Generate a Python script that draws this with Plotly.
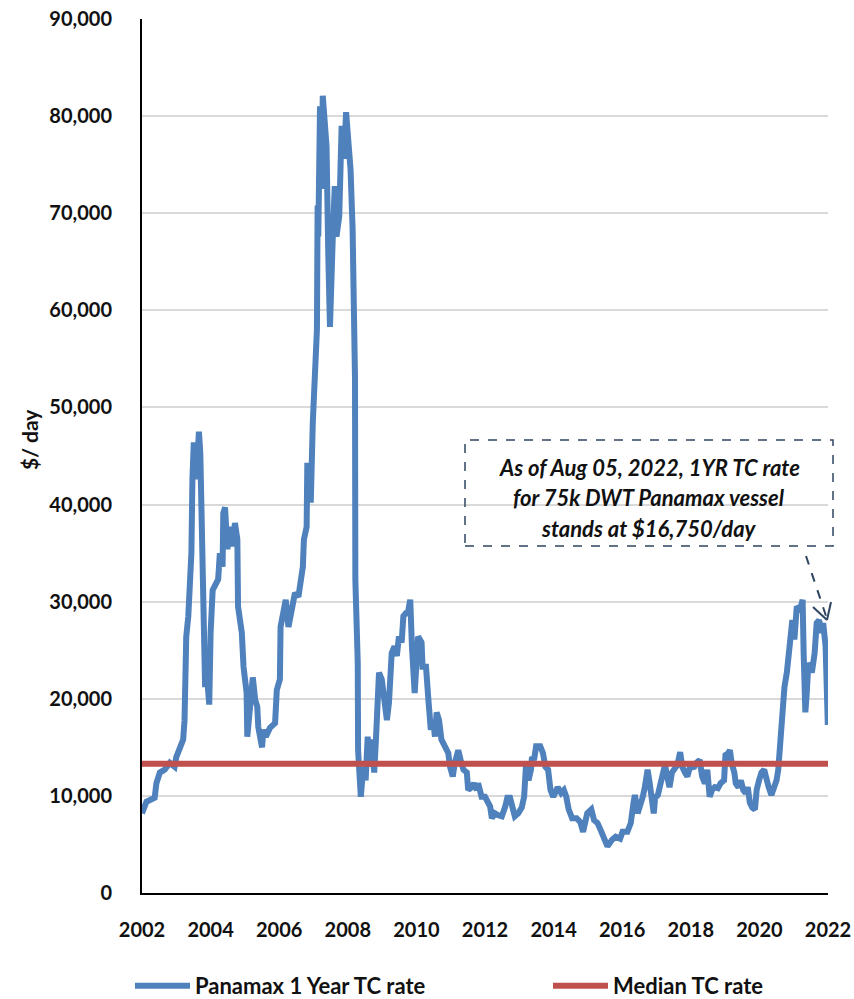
import plotly.graph_objects as go

# ---- data (fractional year, $/day) ----
years = [
    2002.00, 2002.13, 2002.37, 2002.42, 2002.52, 2002.66, 2002.81, 2002.95, 2003.00, 2003.10,
    2003.20, 2003.24, 2003.26, 2003.29, 2003.35, 2003.40, 2003.42, 2003.44, 2003.47, 2003.51,
    2003.58, 2003.66, 2003.70, 2003.73, 2003.75, 2003.77, 2003.84, 2003.88, 2003.96, 2004.00,
    2004.06, 2004.22, 2004.27, 2004.35, 2004.37, 2004.42, 2004.49, 2004.57, 2004.64, 2004.71,
    2004.78, 2004.80, 2004.86, 2004.91, 2004.96, 2005.05, 2005.07, 2005.15, 2005.23, 2005.30,
    2005.36, 2005.39, 2005.50, 2005.54, 2005.61, 2005.73, 2005.88, 2005.93, 2006.02, 2006.04,
    2006.14, 2006.19, 2006.27, 2006.37, 2006.46, 2006.56, 2006.63, 2006.69, 2006.72, 2006.80,
    2006.82, 2006.92, 2006.98, 2007.02, 2007.05, 2007.10, 2007.12, 2007.14, 2007.19, 2007.23,
    2007.27, 2007.30, 2007.38, 2007.43, 2007.48, 2007.56, 2007.62, 2007.67, 2007.75, 2007.82,
    2007.89, 2007.95, 2008.01, 2008.08, 2008.14, 2008.16, 2008.21, 2008.22, 2008.29, 2008.30,
    2008.38, 2008.45, 2008.52, 2008.58, 2008.64, 2008.69, 2008.77, 2008.82, 2008.84, 2008.91,
    2008.99, 2009.07, 2009.14, 2009.20, 2009.28, 2009.36, 2009.43, 2009.49, 2009.57, 2009.62,
    2009.69, 2009.75, 2009.82, 2009.87, 2009.95, 2010.05, 2010.15, 2010.18, 2010.28, 2010.35,
    2010.42, 2010.49, 2010.54, 2010.59, 2010.66, 2010.73, 2010.83, 2010.93, 2010.98, 2011.06,
    2011.12, 2011.22, 2011.29, 2011.37, 2011.47, 2011.51, 2011.61, 2011.68, 2011.76, 2011.80,
    2011.85, 2011.90, 2012.00, 2012.07, 2012.15, 2012.20, 2012.29, 2012.39, 2012.49, 2012.59,
    2012.65, 2012.73, 2012.81, 2012.87, 2012.97, 2013.07, 2013.14, 2013.17, 2013.20, 2013.27,
    2013.34, 2013.37, 2013.43, 2013.49, 2013.61, 2013.69, 2013.76, 2013.84, 2013.91, 2013.99,
    2014.06, 2014.12, 2014.22, 2014.30, 2014.37, 2014.44, 2014.54, 2014.67, 2014.78, 2014.86,
    2014.98, 2015.10, 2015.18, 2015.28, 2015.37, 2015.47, 2015.57, 2015.71, 2015.81, 2015.94,
    2016.01, 2016.15, 2016.25, 2016.33, 2016.37, 2016.45, 2016.53, 2016.60, 2016.66, 2016.74,
    2016.79, 2016.84, 2016.92, 2016.96, 2017.04, 2017.12, 2017.19, 2017.25, 2017.31, 2017.38,
    2017.45, 2017.53, 2017.61, 2017.69, 2017.75, 2017.83, 2017.90, 2017.97, 2018.10, 2018.16,
    2018.26, 2018.33, 2018.41, 2018.48, 2018.55, 2018.62, 2018.70, 2018.79, 2018.87, 2018.97,
    2019.01, 2019.09, 2019.14, 2019.19, 2019.27, 2019.31, 2019.39, 2019.46, 2019.53, 2019.60,
    2019.66, 2019.72, 2019.79, 2019.87, 2019.92, 2019.99, 2020.06, 2020.14, 2020.20, 2020.27,
    2020.35, 2020.43, 2020.50, 2020.55, 2020.60, 2020.65, 2020.73, 2020.80, 2020.85, 2020.92,
    2020.96, 2021.02, 2021.09, 2021.19, 2021.26, 2021.29, 2021.34, 2021.38, 2021.43, 2021.53,
    2021.61, 2021.67, 2021.74, 2021.82, 2021.86, 2021.93, 2021.97, 2021.99, 2021.995, 2022.00,
]
tc_rate = [
    8200, 9400, 9800, 11300, 12400, 12700, 13400, 13000, 14000, 15100,
    15800, 17800, 21000, 26400, 28500, 31200, 33000, 35000, 42600, 46400,
    42600, 47500, 45300, 39100, 39100, 29500, 21200, 23000, 19400, 26800,
    31200, 32300, 35000, 33600, 39100, 39700, 35400, 37700, 35700, 38100,
    36400, 29500, 28100, 26800, 23300, 20600, 16100, 18900, 22200, 19900,
    19200, 17100, 15000, 16800, 16100, 17000, 17500, 20900, 22000, 27400,
    29900, 30200, 27400, 29200, 30900, 30500, 32300, 33600, 36400, 37700,
    44300, 40200, 48500, 52900, 54200, 58000, 70800, 67600, 81000, 72500,
    82100, 80400, 76900, 65900, 58300, 67300, 72800, 67600, 69700, 79000,
    75600, 80400, 78300, 74500, 68400, 62600, 53000, 32300, 23700, 14700,
    9900, 13000, 11600, 16100, 13000, 15800, 12400, 15800, 18600, 22700,
    22000, 19600, 17800, 19600, 24700, 25400, 24400, 26400, 25800, 28500,
    28800, 28800, 30200, 25400, 20600, 26400, 25800, 23300, 23300, 19900,
    16800, 17800, 16100, 18600, 17800, 15800, 15100, 14400, 13000, 12000,
    13400, 14700, 13700, 12700, 12400, 10600, 10900, 11300, 10600, 11300,
    10600, 9900, 9900, 9400, 8900, 7700, 8200, 8000, 7900, 8900,
    9800, 9800, 8600, 7900, 8200, 8800, 9900, 12000, 13400, 11600,
    12700, 14000, 13700, 15100, 15100, 14400, 13000, 12700, 10600, 9900,
    10600, 10900, 10300, 10600, 9900, 8600, 7700, 7700, 7300, 6300,
    8200, 8600, 7500, 7200, 6500, 5500, 4800, 5500, 5800, 5600,
    6300, 6300, 7200, 9300, 10100, 8200, 8900, 9900, 10900, 12700,
    11600, 10300, 8200, 9800, 10100, 11300, 12400, 13200, 12000, 10900,
    12400, 12700, 13200, 14500, 13000, 12400, 12000, 12900, 13000, 13400,
    13700, 12000, 11300, 12700, 9900, 10600, 10900, 10800, 11300, 11600,
    14200, 14400, 14700, 13400, 12400, 11300, 10900, 11600, 10600, 10300,
    10900, 9300, 8800, 8600, 10600, 11600, 12400, 12700, 11600, 10900,
    10100, 10900, 11600, 12700, 15500, 17500, 21200, 22700, 24700, 26800,
    28100, 26100, 29500, 29200, 30200, 24700, 18600, 20600, 23700, 22700,
    24700, 27800, 28100, 26800, 27800, 25400, 21200, 18500, 17300, 18200,
]
median_rate = 13300
median_years = [2002, 2022]
x_ticks = [2002, 2004, 2006, 2008, 2010, 2012, 2014, 2016, 2018, 2020, 2022]
y_ticks = [0, 10000, 20000, 30000, 40000, 50000, 60000, 70000, 80000, 90000]

series_names = ["Panamax 1 Year TC rate", "Median TC rate"]
note_lines = ["As of Aug 05, 2022, 1YR TC rate",
              "for 75k DWT Panamax vessel",
              "stands at $16,750/day"]

# ---- layout geometry (page pixels) ----
W, H = 854, 999
L, R, T, B = 142, 828, 19, 893          # plot area in page pixels
FONT = "Lato, 'Noto Sans', sans-serif"


def px(xp):
    return (xp - L) / (R - L)


def py(yp):
    return (B - yp) / (B - T)


fig = go.Figure()
fig.add_trace(go.Scatter(
    x=years, y=tc_rate, mode="lines", name=series_names[0],
    line=dict(color="#4f81bd", width=6), legend="legend",
))
fig.add_trace(go.Scatter(
    x=median_years, y=[median_rate] * len(median_years), mode="lines",
    name=series_names[1], line=dict(color="#c0504d", width=6), legend="legend2",
))

shapes = [
    dict(type="rect", xref="paper", yref="paper",
         x0=px(465), x1=px(833), y0=py(546), y1=py(440),
         line=dict(color="#2f4562", width=1.5, dash="dash"), fillcolor="rgba(0,0,0,0)"),
    dict(type="line", xref="paper", yref="paper",
         x0=px(806), y0=py(556), x1=px(827), y1=py(619),
         line=dict(color="#2f4562", width=2, dash="dash")),
    dict(type="line", xref="paper", yref="paper",
         x0=px(813), y0=py(607), x1=px(827), y1=py(620),
         line=dict(color="#2f4562", width=2)),
    dict(type="line", xref="paper", yref="paper",
         x0=px(831), y0=py(602), x1=px(827), y1=py(620),
         line=dict(color="#2f4562", width=2)),
]

annotations = []
for txt, yp in zip(note_lines, [467, 498, 528]):
    annotations.append(dict(
        xref="paper", yref="paper", x=px(649), y=py(yp), showarrow=False,
        text="<b><i>" + txt + "</i></b>", xanchor="center", yanchor="middle",
        font=dict(family=FONT, size=22, color="#111111"),
    ))
annotations.append(dict(
    xref="paper", yref="paper", x=px(30), y=py(440), showarrow=False,
    text="<b>$/ day</b>", textangle=-90, xanchor="center", yanchor="middle",
    font=dict(family=FONT, size=21, color="#111111"),
))

legend_font = dict(family=FONT, size=22, color="#111111", weight="bold")

fig.update_layout(
    width=W, height=H, autosize=False,
    margin=dict(l=L, r=W - R, t=T, b=H - B, autoexpand=False),
    paper_bgcolor="white", plot_bgcolor="white",
    font=dict(family=FONT, size=20, color="#111111"),
    showlegend=True,
    legend=dict(orientation="h", x=px(130), xanchor="left", y=py(986), yanchor="middle",
                itemwidth=55, font=legend_font, bgcolor="rgba(0,0,0,0)"),
    legend2=dict(orientation="h", x=px(548), xanchor="left", y=py(986), yanchor="middle",
                 itemwidth=55, font=legend_font, bgcolor="rgba(0,0,0,0)"),
    shapes=shapes,
    annotations=annotations,
    xaxis=dict(range=[2002, 2022], tickvals=x_ticks, ticktext=[f"<b>{v}</b>" for v in x_ticks],
               showgrid=False, zeroline=False, showline=True, linecolor="#000000", linewidth=2,
               ticks="", ticklabelstandoff=18, ticklabeloverflow="allow",
               tickfont=dict(family=FONT, size=20, color="#111111")),
    yaxis=dict(range=[0, 90000], tickvals=y_ticks, ticktext=[f"<b>{v:,}</b>" for v in y_ticks],
               showgrid=True, gridcolor="#d9d9d9", gridwidth=1.5, zeroline=False,
               showline=True, linecolor="#000000", linewidth=2,
               ticks="", ticklabelstandoff=24, ticklabeloverflow="allow",
               tickfont=dict(family=FONT, size=20, color="#111111")),
)

# remove the browser's default 8px body margin so the figure fills the window exactly
fig.write_html("out.html", config={"displayModeBar": False},
               post_script="document.body.style.margin='0';document.body.style.overflow='hidden';")
